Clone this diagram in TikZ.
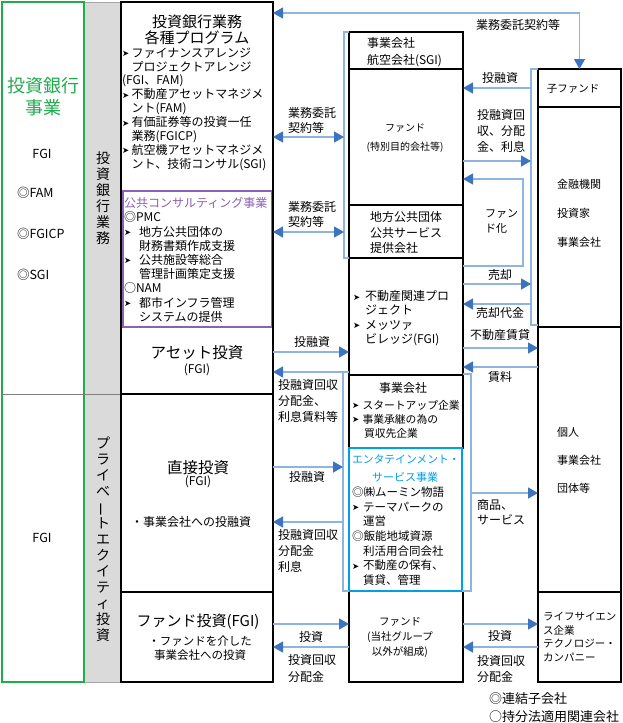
\documentclass[tikz,border=0pt]{standalone}
\usepackage{fontspec}
\usepackage{graphicx}
\setmainfont{Noto Sans CJK JP}
\newfontfamily\dvf{DejaVu Sans}
\usetikzlibrary{arrows.meta,calc}
\definecolor{linkblue}{RGB}{143,180,224}
\definecolor{tipblue}{RGB}{60,116,192}
\definecolor{ggreen}{RGB}{30,172,76}
\definecolor{pmcpurple}{RGB}{140,96,180}
\definecolor{entcyan}{RGB}{0,160,228}
\definecolor{colgrey}{RGB}{218,218,218}
\newcommand\fsz[2]{\fontsize{#1}{#2}\selectfont}
\newcommand\mkw[1]{\makebox[#1][l]{\raisebox{0.6pt}{\dvf\fontsize{8.5}{8.5}\selectfont ➤}}}
\newcommand\indw[1]{\hspace*{#1}}
\begin{document}
\begin{tikzpicture}[x=1pt,y=-1pt,
  box/.style={draw=black,line width=1.1pt,inner sep=0,outer sep=0},
  conn/.style={draw=linkblue,line width=1.3pt},
  toarrow/.style={conn,-{Triangle[length=10pt,width=11pt,color=tipblue]}},
  bothway/.style={conn,{Triangle[length=10pt,width=11pt,color=tipblue]}-{Triangle[length=10pt,width=11pt,color=tipblue]}},
  tl/.style={inner sep=0,outer sep=0,align=left,anchor=north west},
  tc/.style={inner sep=0,outer sep=0,align=center,anchor=north},
  tm/.style={inner sep=0,outer sep=0,anchor=center},
]
\useasboundingbox[fill=white] (0,0) rectangle (622,723);

% left columns
\node[box,draw=gray!70,line width=0.8pt,fill=colgrey,minimum width=37pt,minimum height=680pt] (GC) at (102.5,342) {};
\node[box,draw=ggreen,line width=2.4pt,minimum width=82pt,minimum height=680pt] (G) at (43,342) {};
\draw[gray,line width=1pt] (G.west |- 0,394) -- (GC.east |- 0,394);

% centre column
\node[box,minimum width=152pt,minimum height=392pt] (A) at (197,198) {};
\node[box,draw=pmcpurple,line width=1.8pt,minimum width=148.5pt,minimum height=136pt] (P) at (197.25,259) {};
\node[box,minimum width=152pt,minimum height=198pt] (D) at (197,493) {};
\node[box,minimum width=152pt,minimum height=90pt] (F) at (197,637) {};

% middle column
\node[box,minimum width=114pt,minimum height=37pt] (M1) at (406,50.5) {};
\node[box,minimum width=114pt,minimum height=136pt] (M2) at (406,137) {};
\node[box,minimum width=114pt,minimum height=53pt] (M3) at (406,231.5) {};
\node[box,minimum width=114pt,minimum height=117pt] (M4) at (406,316.5) {};
\node[box,minimum width=114pt,minimum height=73pt] (M5) at (406,411.5) {};
\node[box,minimum width=114pt,minimum height=91pt] (M7) at (406,636.5) {};
\node[box,draw=entcyan,line width=1.8pt,minimum width=113pt,minimum height=143pt] (M6) at (405.5,519.5) {};

% right column
\node[box,minimum width=83pt,minimum height=38pt] (R1) at (579.5,88) {};
\node[box,minimum width=83pt,minimum height=220pt] (R2) at (579.5,217) {};
\node[box,minimum width=83pt,minimum height=265pt] (R3) at (579.5,459.5) {};
\node[box,minimum width=83pt,minimum height=90pt] (R4) at (579.5,637) {};

% connectors
\draw[bothway] (A.east |- 0,13) -| (R1.north);
\draw[conn] (M1.north west) -- ++(-5,0) coordinate (bla) |- (M3.south west);
\draw[bothway] (A.east |- 0,137) -- (bla |- 0,137);
\draw[bothway] (A.east |- 0,232) -- (bla |- 0,232);
\draw[toarrow] (A.east |- 0,352) -- (M4.west |- 0,352);
\draw[conn] ($(M5.north west)+(0,-3)$) -- ++(-6,0) coordinate (blb) |- (M6.south west);
\draw[toarrow] (blb) -- (A.east |- blb);
\draw[toarrow] (D.east |- 0,467) -- (blb |- 0,467);
\draw[toarrow] (blb |- 0,522) -- (D.east |- 0,522);
\draw[toarrow] (F.east |- 0,624) -- (M7.west |- 0,624);
\draw[toarrow] (M7.west |- 0,647) -- (F.east |- 0,647);

\draw[conn] (R1.north west) -- ++(-7,0) coordinate (bra) |- ($(R2.south west)+(0,-2)$);
\draw[toarrow] (bra |- 0,88) -- (M2.east |- 0,88);
\draw[toarrow] (M2.east |- 0,161) -- (bra |- 0,161);
\coordinate (fk) at (523,0);
\draw[toarrow] (M4.east |- 0,266) -- (fk |- 0,266) -- (fk |- 0,179) -- (M2.east |- 0,179);
\draw[toarrow] (M4.east |- 0,284) -- (bra |- 0,284);
\draw[toarrow] (bra |- 0,304) -- (M4.east |- 0,304);
\draw[toarrow] (M4.east |- 0,348) -- (R3.west |- 0,348);
\draw[toarrow] (R3.west |- 0,367) -- (M4.east |- 0,367);
\draw[conn] ($(M5.north east)+(0,-1)$) -- ++(8,0) coordinate (brb) |- (M6.south east);
\draw[toarrow] (brb |- 0,493) -- (R3.west |- 0,493);
\draw[toarrow] (M7.east |- 0,624) -- (R4.west |- 0,624);
\draw[toarrow] (R4.west |- 0,647) -- (M7.east |- 0,647);

% left texts
\node[tc,text=ggreen,font=\fsz{18}{22}] (tg1) at (43,77) {投資銀行\\事業};
\node[tm,font=\fsz{12.5}{14}] (tg2) at (42,154) {FGI};
\node[tl,font=\fsz{12.5}{41}] (tg3) at (17,187.6) {◎FAM\\◎FGICP\\◎SGI};
\node[tm,font=\fsz{12.5}{14}] (tg4) at (42,538) {FGI};
\node[tm,align=center,font=\fsz{14}{16}] (tv1) at (103,198) {投\\資\\銀\\行\\業\\務};
\node[tm,align=center,font=\fsz{14}{16}] (tv2) at (103,539) {プ\\ラ\\イ\\ベ\\\rotatebox[origin=c]{90}{ー}\\ト\\エ\\ク\\イ\\テ\\ィ\\投\\資};

% centre texts
\node[tc,font=\fsz{15}{15.5}] (ta1) at (197,15.3) {投資銀行業務\\各種プログラム};
\node[tl,font=\fsz{12}{13.9}] (ta2) at (122,47.6) {\mkw{9.5pt}ファイナンスアレンジ\\\indw{9.5pt}プロジェクトアレンジ\\(FGI、FAM)\\\mkw{9.5pt}不動産アセットマネジメ\\\indw{9.5pt}ント(FAM)\\\mkw{9.5pt}有価証券等の投資一任\\\indw{9.5pt}業務(FGICP)\\\mkw{9.5pt}航空機アセットマネジメ\\\indw{9.5pt}ント、技術コンサル(SGI)};
\node[tl,font=\fsz{12}{14.2}] (tp1) at (124,197.6) {\textcolor{pmcpurple}{公共コンサルティング事業}\\◎PMC\\\mkw{15pt}地方公共団体の\\\indw{15pt}財務書類作成支援\\\mkw{15pt}公共施設等総合\\\indw{15pt}管理計画策定支援\\○NAM\\\mkw{15pt}都市インフラ管理\\\indw{15pt}システムの提供};
\node[tm,font=\fsz{15.5}{17}] (ta3) at (197,353) {アセット投資};
\node[tm,font=\fsz{12}{14}] (ta4) at (197,370) {(FGI)};
\node[tm,font=\fsz{15.5}{17}] (td1) at (198,468) {直接投資};
\node[tm,font=\fsz{12}{14}] (td2) at (198,482) {(FGI)};
\node[tm,font=\fsz{12}{14}] (td3) at (191,522) {・事業会社への投融資};
\node[tm,font=\fsz{15}{17}] (tf1) at (198,622) {ファンド投資(FGI)};
\node[tc,font=\fsz{11.5}{14}] (tf2) at (200,635.8) {・ファンドを介した\\事業会社への投資};

% middle texts
\node[tl,font=\fsz{12}{17}] (tm1) at (367,37.6) {事業会社\\航空会社(SGI)};
\node[tc,font=\fsz{10}{19}] (tm2) at (405,123.5) {ファンド\\(特別目的会社等)};
\node[tl,font=\fsz{12}{15.5}] (tm3) at (370,211.6) {地方公共団体\\公共サービス\\提供会社};
\node[tl,font=\fsz{12}{14.3}] (tm4) at (353,290.6) {\mkw{12pt}不動産関連プロ\\\indw{12pt}ジェクト\\\mkw{12pt}メッツァ\\\indw{12pt}ビレッジ(FGI)};
\node[tm,font=\fsz{12}{14}] (tm5) at (403,388) {事業会社};
\node[tl,font=\fsz{10.8}{14}] (tm6) at (352,400.1) {\mkw{10.5pt}スタートアップ企業\\\mkw{10.5pt}事業承継の為の\\\indw{12pt}買収先企業};
\node[tl,text=entcyan,font=\fsz{10.8}{14}] (tm7) at (352,455.1) {エンタテインメント・};
\node[tm,text=entcyan,font=\fsz{11}{14}] (tm8) at (405,477) {サービス事業};
\node[tl,font=\fsz{11.5}{14.7}] (tm9) at (352,486.8) {◎㈱ムーミン物語\\\mkw{11pt}テーマパークの\\\indw{11pt}運営\\◎飯能地域資源\\\indw{11pt}利活用合同会社\\\mkw{11pt}不動産の保有、\\\indw{11pt}賃貸、管理};
\node[tc,font=\fsz{10.5}{15}] (tm10) at (400,617.3) {ファンド\\(当社グループ\\以外が組成)};

% right texts
\node[tm,font=\fsz{10.5}{14}] (tr1) at (573,89) {子ファンド};
\node[tl,font=\fsz{11}{29}] (tr2) at (557,179) {金融機関\\投資家\\事業会社};
\node[tl,font=\fsz{11}{28}] (tr3) at (557,427) {個人\\事業会社\\団体等};
\node[tl,font=\fsz{10.5}{13.7}] (tr4) at (543,612.3) {ライフサイエン\\ス企業\\テクノロジー・\\カンパニー};
\node[tl,font=\fsz{13}{18}] (tn) at (489,693) {◎連結子会社\\○持分法適用関連会社};

% connector labels
\node[tm,font=\fsz{12}{14}] (l1) at (518,25) {業務委託契約等};
\node[tl,font=\fsz{12}{15}] (l2) at (288,107.6) {業務委託\\契約等};
\node[tl,font=\fsz{12}{15}] (l3) at (288,201.6) {業務委託\\契約等};
\node[tm,font=\fsz{12}{14}] (l4) at (312,342) {投融資};
\node[tl,font=\fsz{12}{16}] (l5) at (278,379.6) {投融資回収\\分配金、\\利息賃料等};
\node[tm,font=\fsz{12}{14}] (l6) at (307,477) {投融資};
\node[tl,font=\fsz{12}{16}] (l7) at (278,529.6) {投融資回収\\分配金\\利息};
\node[tm,font=\fsz{12}{14}] (l8) at (311,637) {投資};
\node[tl,font=\fsz{12}{17}] (l9) at (288,654.6) {投資回収\\分配金};
\node[tm,font=\fsz{12}{14}] (l10) at (500,78) {投融資};
\node[tl,font=\fsz{12}{16}] (l11) at (477,109.6) {投融資回\\収、分配\\金、利息};
\node[tl,font=\fsz{11}{15}] (l12) at (485,209.6) {ファン\\ド化};
\node[tm,font=\fsz{12}{14}] (l13) at (500,275) {売却};
\node[tm,font=\fsz{12}{14}] (l14) at (500,313) {売却代金};
\node[tm,font=\fsz{12}{14}] (l15) at (500,335) {不動産賃貸};
\node[tm,font=\fsz{12}{14}] (l16) at (500,377) {賃料};
\node[tl,font=\fsz{12}{15}] (l17) at (477,499.6) {商品、\\サービス};
\node[tm,font=\fsz{12}{14}] (l18) at (500,636) {投資};
\node[tl,font=\fsz{12}{16}] (l19) at (477,655.6) {投資回収\\分配金};
\end{tikzpicture}
\end{document}
